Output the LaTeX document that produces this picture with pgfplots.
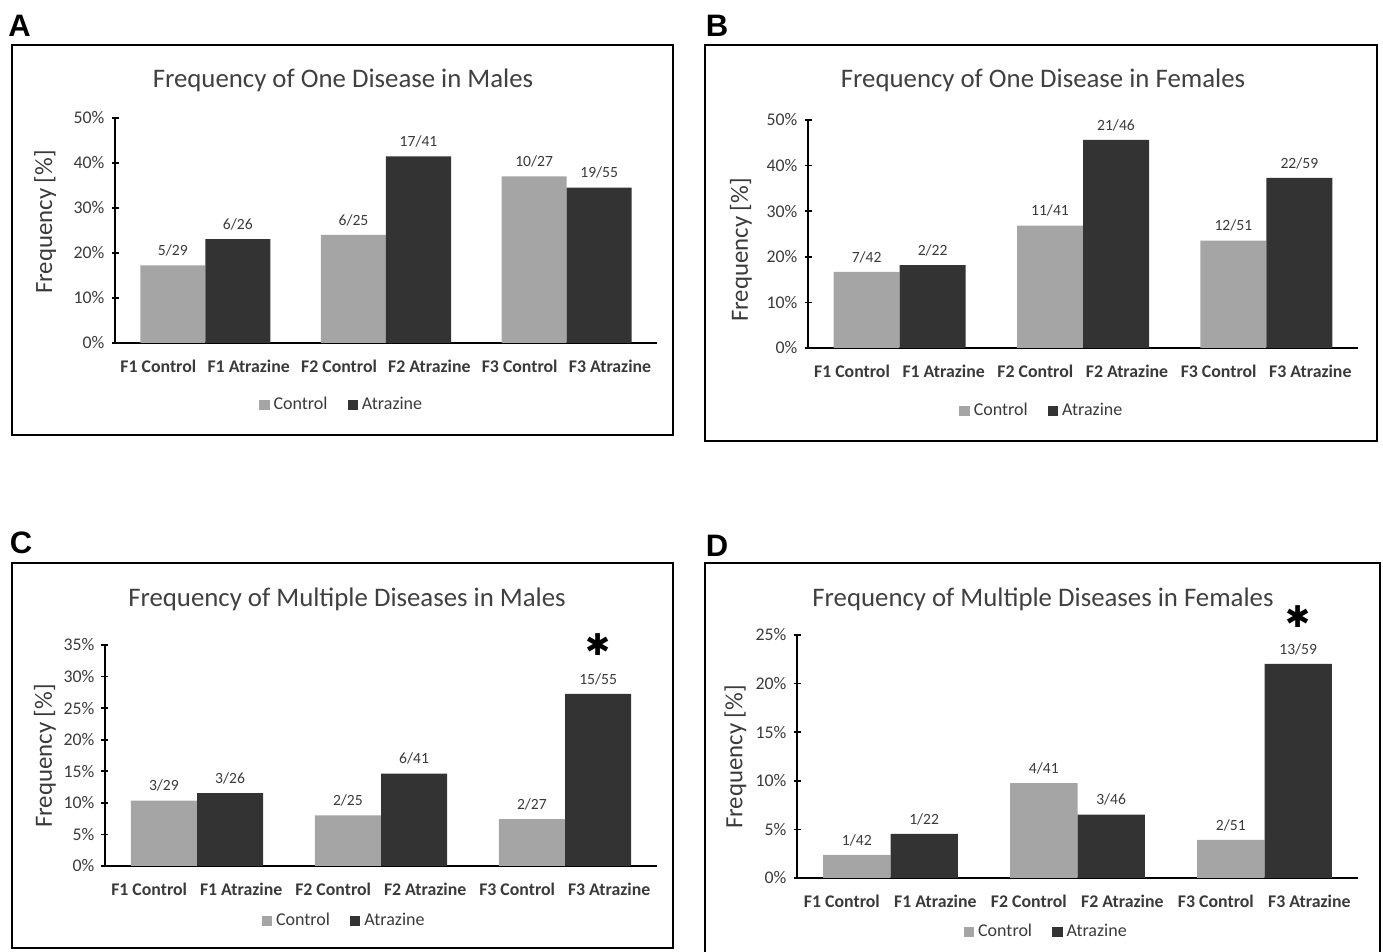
\documentclass[border=0pt]{standalone}
\usepackage{fontspec}
\setmainfont{Carlito}
\newfontfamily\djv{DejaVu Sans}
\newfontfamily\arialb{Liberation Sans}
\usepackage{pgfplots}
\pgfplotsset{compat=1.18}
\definecolor{ctrl}{HTML}{A5A5A5}
\definecolor{atra}{HTML}{333333}
\definecolor{txt}{HTML}{3A3A3A}
\definecolor{ttl}{HTML}{404040}

\pgfplotsset{
  panel/.style={
    scale only axis,
    anchor=south west,
    axis lines=left,
    axis line style={black, line width=0.8pt, -},
    xmin=-0.5, xmax=2.5, ymin=0,
    xtick={-0.26,0.24,0.74,1.24,1.74,2.24},
    xticklabels={F1 Control,F1 Atrazine,F2 Control,F2 Atrazine,F3 Control,F3 Atrazine},
    xticklabel style={font=\bfseries\fontsize{8.9}{10}\selectfont, text=txt, yshift=-3pt},
    x tick style={draw=none},
    major tick length=3.5pt,
    y tick style={black, line width=0.8pt},
    yticklabel style={font=\fontsize{8.9}{10}\selectfont, text=txt},
    yticklabel={\pgfmathprintnumber{\tick}\%},
    /pgf/number format/assume math mode=true,
    ytick pos=left,
    ylabel={Frequency [\%]},
    ylabel style={font=\fontsize{12.4}{14}\selectfont, text=txt},
    legend columns=2,
    legend style={draw=none, fill=none, font=\fontsize{9}{10}\selectfont, text=txt,
      /tikz/every even column/.append style={column sep=8pt}},
    legend image code/.code={\fill[##1] (0pt,-2.6pt) rectangle (5.2pt,2.6pt);},
    nodes near coords,
    point meta=explicit symbolic,
    every node near coord/.append style={font=\fontsize{7.8}{9}\selectfont, text=txt, anchor=south, yshift=1pt},
    clip=false,
  },
  cbar/.style={ybar, bar width=0.36, bar shift=0pt, fill=ctrl, draw=none},
  abar/.style={ybar, bar width=0.36, bar shift=0pt, fill=atra, draw=none},
}

\begin{document}
\begin{tikzpicture}
% ---------- frames ----------
\draw[black, line width=0.7pt] (6pt,258.5pt) rectangle (336.5pt,453.5pt);
\draw[black, line width=0.7pt] (352.5pt,255.5pt) rectangle (688.5pt,453.5pt);
\draw[black, line width=0.7pt] (6pt,2pt) rectangle (336.5pt,194.5pt);
\draw[black, line width=0.7pt] (352.5pt,0pt) -- (352.5pt,194.5pt) -- (690pt,194.5pt) -- (690pt,0pt);
% ---------- panel letters ----------
\node[font=\arialb\bfseries\fontsize{15.5}{17}\selectfont] at (9.8pt,463.3pt) {A};
\node[font=\arialb\bfseries\fontsize{15.5}{17}\selectfont] at (358.5pt,463pt) {B};
\node[font=\arialb\bfseries\fontsize{15.5}{17}\selectfont] at (10.5pt,204.5pt) {C};
\node[font=\arialb\bfseries\fontsize{15.5}{17}\selectfont] at (358.5pt,203pt) {D};
% ---------- titles ----------
\node[font=\fontsize{13.4}{16}\selectfont, text=ttl] at (171.5pt,436pt) {Frequency of One Disease in Males};
\node[font=\fontsize{13.4}{16}\selectfont, text=ttl] at (521.5pt,436pt) {Frequency of One Disease in Females};
\node[font=\fontsize{13.4}{16}\selectfont, text=ttl] at (173.5pt,176.5pt) {Frequency of Multiple Diseases in Males};
\node[font=\fontsize{13.4}{16}\selectfont, text=ttl] at (521.5pt,176.5pt) {Frequency of Multiple Diseases in Females};

% ---------- A ----------
\begin{axis}[panel, at={(57.5pt,304.5pt)}, width=271pt, height=112.5pt,
  ymax=50, ytick={0,10,20,30,40,50},
  ylabel style={at={(axis description cs:-0.129,0.538)}, anchor=center},
  legend style={at={(axis description cs:0.42,-0.276)}, anchor=center}]
\addplot[cbar] coordinates {(-0.18,17.24)[5/29] (0.82,24.00)[6/25] (1.82,37.04)[10/27]};
\addplot[abar] coordinates {(0.18,23.08)[6/26] (1.18,41.46)[17/41] (2.18,34.55)[19/55]};
\legend{Control,Atrazine}
\end{axis}

% ---------- B ----------
\begin{axis}[panel, at={(404pt,302pt)}, width=275pt, height=114pt,
  ymax=50, ytick={0,10,20,30,40,50},
  ylabel style={at={(axis description cs:-0.122,0.43)}, anchor=center},
  legend style={at={(axis description cs:0.427,-0.276)}, anchor=center}]
\addplot[cbar] coordinates {(-0.18,16.67)[7/42] (0.82,26.83)[11/41] (1.82,23.53)[12/51]};
\addplot[abar] coordinates {(0.18,18.18)[2/22] (1.18,45.65)[21/46] (2.18,37.29)[22/59]};
\legend{Control,Atrazine}
\end{axis}

% ---------- C ----------
\begin{axis}[panel, at={(52.5pt,43pt)}, width=276pt, height=110.5pt,
  ymax=35, ytick={0,5,10,15,20,25,30,35},
  ylabel style={at={(axis description cs:-0.109,0.498)}, anchor=center},
  legend style={at={(axis description cs:0.435,-0.249)}, anchor=center}]
\addplot[cbar] coordinates {(-0.18,10.34)[3/29] (0.82,8.00)[2/25] (1.82,7.41)[2/27]};
\addplot[abar] coordinates {(0.18,11.54)[3/26] (1.18,14.63)[6/41] (2.18,27.27)[15/55]};
\legend{Control,Atrazine}
\node[font=\djv\fontsize{15}{16}\selectfont] at (axis cs:2.18,27.27) [yshift=24.5pt] {✱};
\end{axis}

% ---------- D ----------
\begin{axis}[panel, at={(398.5pt,37pt)}, width=280.5pt, height=121.5pt,
  ymax=25, ytick={0,5,10,15,20,25},
  ylabel style={at={(axis description cs:-0.11,0.498)}, anchor=center},
  legend style={at={(axis description cs:0.446,-0.222)}, anchor=center}]
\addplot[cbar] coordinates {(-0.18,2.38)[1/42] (0.82,9.76)[4/41] (1.82,3.92)[2/51]};
\addplot[abar] coordinates {(0.18,4.55)[1/22] (1.18,6.52)[3/46] (2.18,22.03)[13/59]};
\legend{Control,Atrazine}
\node[font=\djv\fontsize{15}{16}\selectfont] at (axis cs:2.18,22.03) [yshift=23.5pt] {✱};
\end{axis}

\pgfresetboundingbox
\path[use as bounding box] (0pt,0pt) rectangle (691.5pt,476pt);
\end{tikzpicture}
\end{document}
